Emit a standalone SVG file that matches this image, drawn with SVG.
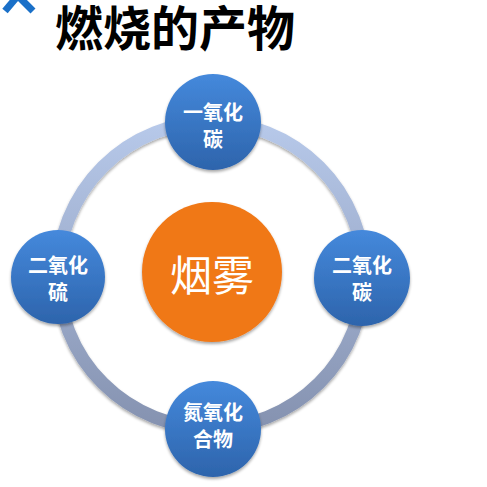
<svg xmlns="http://www.w3.org/2000/svg" width="487" height="487" viewBox="0 0 487 487">
<defs>
<linearGradient id="ringG" x1="0" y1="0" x2="0" y2="1">
<stop offset="0" stop-color="#b7c9ea"/>
<stop offset="1" stop-color="#8592b0"/>
</linearGradient>
<linearGradient id="blueG" x1="0" y1="0" x2="0" y2="1">
<stop offset="0" stop-color="#4589dc"/>
<stop offset="1" stop-color="#2d64ac"/>
</linearGradient>
<filter id="sh" x="-20%" y="-20%" width="140%" height="140%">
<feGaussianBlur in="SourceAlpha" stdDeviation="1.5"/>
<feOffset dx="0" dy="2" result="b"/>
<feComponentTransfer><feFuncA type="linear" slope="0.35"/></feComponentTransfer>
<feMerge><feMergeNode/><feMergeNode in="SourceGraphic"/></feMerge>
</filter>
</defs>
<style>
.node{fill:url(#blueG);filter:url(#sh)}
.nt{font-family:"Noto Sans CJK SC","Noto Sans",sans-serif;font-weight:bold;font-size:20px;fill:#ffffff;text-anchor:middle}
</style>
<g id="logo" stroke="#1a70c8" stroke-width="7" stroke-linecap="butt">
<line x1="5" y1="11" x2="16" y2="-2"/>
<line x1="20" y1="-2" x2="33" y2="11"/>
</g>
<text id="title" x="55" y="46" font-family="Noto Sans CJK SC,sans-serif" font-weight="bold" font-size="48" fill="#000000">燃烧的产物</text>
<g id="connectors">
<circle cx="211" cy="275" r="153" fill="none" stroke="url(#ringG)" stroke-width="13" filter="url(#sh)"/>
</g>
<g id="center">
<circle cx="212" cy="272" r="70" fill="#f07818" filter="url(#sh)"/>
<text x="212" y="291" font-family="Noto Sans CJK SC,sans-serif" font-size="42" fill="#ffffff" text-anchor="middle">烟雾</text>
</g>
<g id="n-top">
<circle class="node" cx="213" cy="122" r="48"/>
<text class="nt" x="213" y="120">一氧化</text>
<text class="nt" x="213" y="147">碳</text>
</g>
<g id="n-left">
<circle class="node" cx="58" cy="277" r="47"/>
<text class="nt" x="58" y="273">二氧化</text>
<text class="nt" x="58" y="300">硫</text>
</g>
<g id="n-right">
<circle class="node" cx="362" cy="278" r="48"/>
<text class="nt" x="362" y="273">二氧化</text>
<text class="nt" x="362" y="300">碳</text>
</g>
<g id="n-bottom">
<circle class="node" cx="213" cy="429" r="48"/>
<text class="nt" x="213" y="420">氮氧化</text>
<text class="nt" x="213" y="447">合物</text>
</g>
</svg>
